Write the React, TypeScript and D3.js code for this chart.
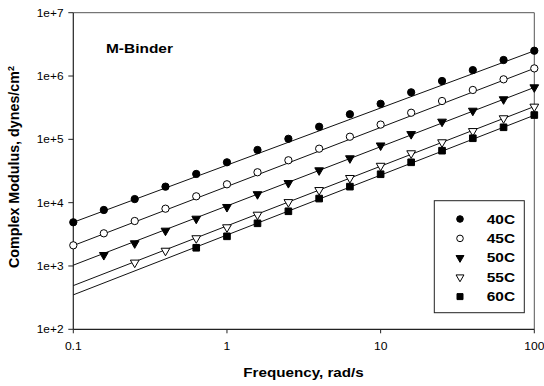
import React, { useEffect, useRef } from "react";
import * as d3 from "d3";

// frequencies, rad/s (5 points per decade)
const freqs = [0.1, 0.158, 0.251, 0.398, 0.631, 1, 1.58, 2.51, 3.98, 6.31, 10, 15.8, 25.1, 39.8, 63.1, 100];

const labels = ["40C", "45C", "50C", "55C", "60C"];

// complex modulus, dynes/cm2 (null = not measured)
const g40 = [4.9e3, 7.66e3, 1.14e4, 1.79e4, 2.84e4, 4.34e4, 6.79e4, 1.02e5, 1.58e5, 2.49e5, 3.64e5, 5.53e5, 8.34e5, 1.24e6, 1.79e6, 2.51e6];
const g45 = [2.12e3, 3.28e3, 5.13e3, 8.03e3, 1.26e4, 1.95e4, 3.02e4, 4.67e4, 7.12e4, 1.1e5, 1.71e5, 2.63e5, 4.03e5, 6.02e5, 8.87e5, 1.32e6];
const g50 = [null, 1.49e3, 2.28e3, 3.61e3, 5.58e3, 8.54e3, 1.36e4, 2.04e4, 3.24e4, 5.02e4, 8.0e4, 1.21e5, 1.9e5, 2.83e5, 4.29e5, 6.63e5];
const g55 = [null, null, 1.13e3, 1.74e3, 2.74e3, 4.08e3, 6.45e3, 1.02e4, 1.58e4, 2.45e4, 3.82e4, 6.02e4, 8.98e4, 1.35e5, 2.15e5, 3.28e5];
const g60 = [null, null, null, null, 1.94e3, 2.94e3, 4.72e3, 7.31e3, 1.16e4, 1.79e4, 2.81e4, 4.34e4, 6.62e4, 1.04e5, 1.55e5, 2.42e5];

// fitted power-law lines: value at 0.1 and at 100 rad/s
const fitLow = [4.9e3, 2.1e3, 1.03e3, 4.9e2, 3.5e2];
const fitHigh = [2.5e6, 1.32e6, 6.6e5, 3.3e5, 2.4e5];

const xTicks = [0.1, 1, 10, 100];
const xTickLabels = ["0.1", "1", "10", "100"];
const yTicks = [1e2, 1e3, 1e4, 1e5, 1e6, 1e7];
const yTickLabels = ["1e+2", "1e+3", "1e+4", "1e+5", "1e+6", "1e+7"];

const FONT = "'Liberation Sans', Arial, Helvetica, sans-serif";

const App: React.FC = () => {
  const svgRef = useRef<SVGSVGElement | null>(null);

  useEffect(() => {
    if (!svgRef.current) return;
    const svg = d3.select(svgRef.current);
    svg.selectAll("*").remove();

    const left = 73.3, right = 534.3, top = 12.7, bottom = 329.3;

    const x = d3.scaleLog().domain([0.1, 100]).range([left, right]);
    const y = d3.scaleLog().domain([1e2, 1e7]).range([bottom, top]);

    const series = [g40, g45, g50, g55, g60];

    // stretched text helper
    const text = (
      px: number, py: number, str: string, size: number, sx: number,
      anchor: string, bold: boolean
    ) =>
      svg.append("text")
        .attr("transform", `translate(${px},${py}) scale(${sx},1)`)
        .attr("text-anchor", anchor)
        .attr("font-family", FONT)
        .attr("font-size", size)
        .attr("font-weight", bold ? "bold" : "normal")
        .attr("fill", "#000")
        .text(str);

    // frame
    svg.append("line").attr("x1", left).attr("x2", right).attr("y1", top).attr("y2", top)
      .attr("stroke", "#555").attr("stroke-width", 1);
    svg.append("line").attr("x1", right).attr("x2", right).attr("y1", top).attr("y2", bottom)
      .attr("stroke", "#555").attr("stroke-width", 1);
    svg.append("line").attr("x1", left).attr("x2", right).attr("y1", bottom).attr("y2", bottom)
      .attr("stroke", "#222").attr("stroke-width", 1.2);
    svg.append("line").attr("x1", left).attr("x2", left).attr("y1", top).attr("y2", bottom)
      .attr("stroke", "#222").attr("stroke-width", 1.2);

    // ticks
    xTicks.forEach((t, i) => {
      svg.append("line").attr("x1", x(t)).attr("x2", x(t)).attr("y1", bottom).attr("y2", bottom + 4)
        .attr("stroke", "#222");
      text(x(t), 350, xTickLabels[i], 11, 1.1, "middle", false);
    });
    yTicks.forEach((t, i) => {
      svg.append("line").attr("x1", left - 5).attr("x2", left).attr("y1", y(t)).attr("y2", y(t))
        .attr("stroke", "#222");
      text(63.5, y(t) + 4, yTickLabels[i], 11, 1.08, "end", false);
    });

    // axis titles
    text(303.5, 377.3, "Frequency, rad/s", 13, 1.17, "middle", true);
    const yt = svg.append("text")
      .attr("transform", `translate(19,${(top + bottom) / 2 - 4}) rotate(-90)`)
      .attr("text-anchor", "middle")
      .attr("font-family", FONT)
      .attr("font-size", 14.3)
      .attr("font-weight", "bold");
    yt.append("tspan").text("Complex Modulus, dynes/cm");
    yt.append("tspan").attr("dy", -5).attr("font-size", 9).text("2");

    text(106, 52.7, "M-Binder", 13, 1.19, "start", true);

    // fitted lines
    series.forEach((_, i) => {
      svg.append("line")
        .attr("x1", x(0.1)).attr("y1", y(fitLow[i]))
        .attr("x2", x(100)).attr("y2", y(fitHigh[i]))
        .attr("stroke", "#111").attr("stroke-width", 1);
    });

    // markers
    const shape = (i: number, size: number) => {
      if (i === 0 || i === 1) return d3.symbol(d3.symbolCircle, size * 0.95)();
      if (i === 2 || i === 3) return d3.symbol(d3.symbolTriangle, size * 0.75)();
      return d3.symbol(d3.symbolSquare, size)();
    };
    const filled = [true, false, true, false, true];
    const drawMarker = (g: d3.Selection<any, any, any, any>, i: number, px: number, py: number, size: number) => {
      const rot = i === 2 || i === 3 ? " rotate(180)" : "";
      g.append("path")
        .attr("d", shape(i, size))
        .attr("transform", `translate(${px},${py})${rot}`)
        .attr("fill", filled[i] ? "#000" : "#fff")
        .attr("stroke", "#000")
        .attr("stroke-width", 1);
    };

    series.forEach((vals, i) => {
      const g = svg.append("g");
      vals.forEach((v, k) => {
        if (v == null) return;
        drawMarker(g, i, x(freqs[k]), y(v), 44);
      });
    });

    // legend
    svg.append("rect")
      .attr("x", 434.3).attr("y", 200.7).attr("width", 90).attr("height", 112)
      .attr("fill", "#fff").attr("stroke", "#222").attr("stroke-width", 1);
    const lg = svg.append("g");
    labels.forEach((lab, i) => {
      const cy = 219 + i * 19.4;
      drawMarker(lg, i, 460, cy, 36);
      text(486.7, cy + 4.5, lab, 13, 1.19, "start", true);
    });
  }, []);

  return (
    <svg
      ref={svgRef}
      width={544}
      height={386}
      style={{ position: "absolute", left: 0, top: 0, background: "#fff" }}
    ></svg>
  );
};

export default App;
